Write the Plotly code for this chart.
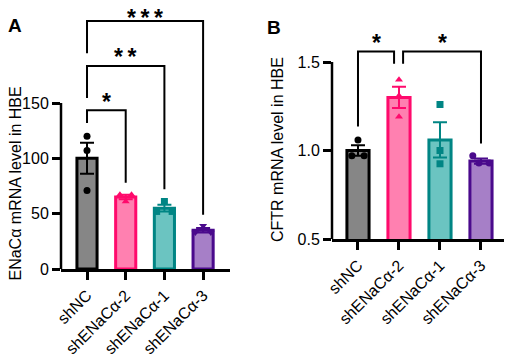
import plotly.graph_objects as go

# ---------------- data ----------------
categories = ["shNC", "shENaCα-2", "shENaCα-1", "shENaCα-3"]

enac_mean = [100, 65, 55, 35]
enac_sem = [14, 2, 3, 2]
enac_points = [[120, 107, 71], [67, 67, 61], [61, 52, 52], [39, 33, 33]]

cftr_mean = [1.00, 1.30, 1.06, 0.94]
cftr_sem = [0.03, 0.06, 0.10, 0.015]
cftr_points = [[1.06, 0.97, 0.97], [1.40, 1.31, 1.19], [1.26, 1.00, 0.925], [0.97, 0.93, 0.93]]

yticks_a = [0, 50, 100, 150]
yticks_b = [0.5, 1.0, 1.5]

# significance brackets: (x_left, x_right, top, left_leg_bottom, right_leg_bottom, label)
sig_a = [
    (0, 1, 143.5, 132, 78, "*"),
    (0, 2, 183.5, 154.5, 72, "**"),
    (0, 3, 224, 195, 49, "***"),
]
sig_b = [
    (0, 0.88, 1.559, 1.136, 1.49, "*"),
    (1.10, 3.0, 1.559, 1.49, 1.04, "*"),
]

# ---------------- style ----------------
fills = ["#868686", "#FF80B0", "#6BC4C1", "#A67FC7"]
edges = ["#000000", "#FF0A6C", "#008584", "#4A0A8C"]
symbols_a = ["circle", "triangle-up", "square", "triangle-down"]
symbols_b = ["circle", "triangle-up", "square", "circle"]
spread_a = [[0, 0, 0], [-0.15, 0.15, 0], [0, -0.2, 0.2], [0, -0.2, 0.2]]
spread_b = [[0, -0.15, 0.15], [0, 0, 0], [0, 0, 0], [-0.2, -0.05, 0.2]]
star_shift_a = [8.5, 8.5, 3]
star_shift_b = [8.5, 8.5]
FONT = "Liberation Sans, Arial, sans-serif"
W, H = 512, 356
OFF = 8  # page body margin compensation (px)


def px_x(p):
    return (p - OFF) / W


def px_y(p):
    return 1 - (p - OFF) / H


fig = go.Figure()


def add_panel(means, sems, points, symbols, spread, xa, ya, bw):
    for i, cat in enumerate(categories):
        fig.add_trace(go.Bar(
            x=[i], y=[means[i]], width=bw,
            marker=dict(color=fills[i], line=dict(color=edges[i], width=3)),
            error_y=dict(type="data", array=[sems[i]], color=edges[i],
                         thickness=2, width=7),
            xaxis=xa, yaxis=ya, showlegend=False))
        fig.add_trace(go.Scatter(
            x=[i + d for d in spread[i]], y=points[i], mode="markers",
            marker=dict(symbol=symbols[i], size=7, color=edges[i]),
            xaxis=xa, yaxis=ya, showlegend=False, cliponaxis=False))


add_panel(enac_mean, enac_sem, enac_points, symbols_a, spread_a, "x", "y", 0.52)
add_panel(cftr_mean, cftr_sem, cftr_points, symbols_b, spread_b, "x2", "y2", 0.54)


def add_brackets(sigs, shifts, xr, yr):
    for (x0, x1, top, lb, rb, lab), s in zip(sigs, shifts):
        fig.add_shape(type="path",
                      path=f"M {x0},{lb} L {x0},{top} L {x1},{top} L {x1},{rb}",
                      xref=xr, yref=yr, line=dict(color="black", width=2))
        fig.add_annotation(x=(x0 + x1) / 2, y=top, xref=xr, yref=yr,
                           text="<b>" + "\u2009".join(lab) + "</b>", showarrow=False,
                           yanchor="middle", yshift=s,
                           font=dict(size=23, color="black", family=FONT))


add_brackets(sig_a, star_shift_a, "x", "y")
add_brackets(sig_b, star_shift_b, "x2", "y2")

# y axis lines only up to the top tick
fig.add_shape(type="line", xref="x domain", yref="y", x0=0, x1=0,
              y0=yticks_a[0], y1=yticks_a[-1], line=dict(color="black", width=2.5))
fig.add_shape(type="line", xref="x2 domain", yref="y2", x0=0, x1=0,
              y0=yticks_b[0], y1=yticks_b[-1], line=dict(color="black", width=2.5))

axis_common = dict(ticks="outside", ticklen=8, tickwidth=2.5, tickcolor="black",
                   tickfont=dict(size=16, color="black", family=FONT),
                   showgrid=False, zeroline=False, automargin=False)

a_per = (269 - 103) / 150     # px per unit, panel A
b_per = (239 - 62) / 1.0      # px per unit, panel B

fig.update_layout(
    width=W, height=H, margin=dict(l=0, r=0, t=0, b=0),
    paper_bgcolor="white", plot_bgcolor="white", barmode="overlay",
    font=dict(family=FONT, color="black"),
    xaxis=dict(domain=[px_x(61), px_x(230)], range=[-0.672, 3.695],
               tickvals=list(range(4)), ticktext=categories, tickangle=-45,
               showline=True, linecolor="black", linewidth=2.5, anchor="y",
               **axis_common),
    yaxis=dict(domain=[px_y(269), 1], range=[0, (269 - OFF) / a_per],
               tickvals=yticks_a, showline=False, anchor="x", **axis_common),
    xaxis2=dict(domain=[px_x(332), px_x(506)], range=[-0.634, 3.61],
                tickvals=list(range(4)), ticktext=categories, tickangle=-45,
                showline=True, linecolor="black", linewidth=2.5, anchor="y2",
                **axis_common),
    yaxis2=dict(domain=[px_y(239), 1], range=[0.5, 0.5 + (239 - OFF) / b_per],
                tickvals=yticks_b, tickformat=".1f", showline=False, anchor="x2",
                **axis_common),
)

# axis titles and panel letters
fig.add_annotation(x=0, y=px_y(184), xref="paper", yref="paper", xanchor="left",
                   xshift=-4,
                   text="ENaCα mRNA level in HBE", textangle=-90, showarrow=False,
                   font=dict(size=16, color="black", family=FONT))
fig.add_annotation(x=px_x(277), y=px_y(150), xref="paper", yref="paper",
                   text="CFTR mRNA level in HBE", textangle=-90, showarrow=False,
                   font=dict(size=16, color="black", family=FONT))
fig.add_annotation(x=0, y=px_y(13), xref="paper", yref="paper", xanchor="left",
                   xshift=-2,
                   text="<b>A</b>", showarrow=False,
                   font=dict(size=19, color="black", family=FONT))
fig.add_annotation(x=px_x(274), y=px_y(15), xref="paper", yref="paper",
                   text="<b>B</b>", showarrow=False,
                   font=dict(size=19, color="black", family=FONT))

fig.write_html("out.html")
